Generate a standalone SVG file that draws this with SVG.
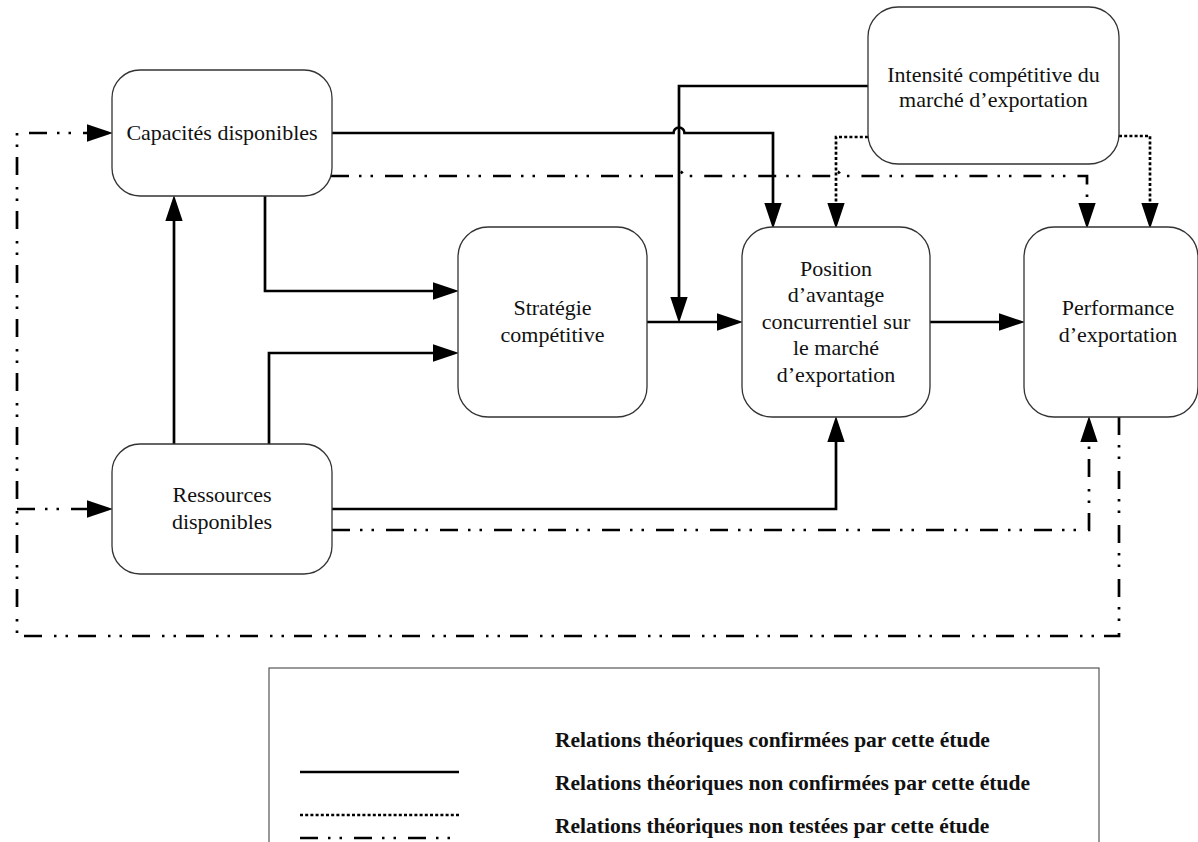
<svg xmlns="http://www.w3.org/2000/svg" width="1198" height="842" viewBox="0 0 1198 842">
<defs>
<style>
.node{fill:#fff;stroke:#333;stroke-width:1.3}
.lbl{font-family:"Liberation Serif","Times New Roman",serif;font-size:22px;fill:#111;text-anchor:middle}
.leg{font-family:"Liberation Serif","Times New Roman",serif;font-size:21.5px;font-weight:bold;fill:#111}
.c{fill:none;stroke:#000;stroke-width:2.7}
.dot{stroke-dasharray:3 2.2}
.dd{stroke-dasharray:18 10 2.5 9 2.5 12}
</style>
<marker id="ah" markerUnits="userSpaceOnUse" markerWidth="26" markerHeight="18" viewBox="0 0 24 16" refX="12" refY="8" orient="auto">
<path d="M0,0 L24,8 L0,16 z" fill="#000"/>
</marker>
</defs>
<rect width="1198" height="842" fill="#fff"/>

<g id="connectors">
<path class="c" d="M332,133 L673.5,133 A5.5,5.5 0 0,1 684.5,133 L773,133 L773,216" marker-end="url(#ah)"/>
<path class="c dd" d="M331,176 L674.5,176 A4.5,4.5 0 0,1 683.5,176 L831.5,176 A4.5,4.5 0 0,1 840.5,176 L1087,176 L1087,216" marker-end="url(#ah)"/>
<path class="c" d="M868,86 L679,86 L679,310" marker-end="url(#ah)"/>
<path class="c dot" d="M868,137 L836,137 L836,216" marker-end="url(#ah)"/>
<path class="c dot" d="M1119,136 L1150,136 L1150,216" marker-end="url(#ah)"/>
<path class="c" d="M265,196 L265,291 L446,291" marker-end="url(#ah)"/>
<path class="c" d="M269,444 L269,353 L446,353" marker-end="url(#ah)"/>
<path class="c" d="M174,444 L174,208" marker-end="url(#ah)"/>
<path class="c" d="M647,322 L730,322" marker-end="url(#ah)"/>
<path class="c" d="M930,322 L1012,322" marker-end="url(#ah)"/>
<path class="c" d="M332,509 L836,509 L836,429" marker-end="url(#ah)"/>
<path class="c dd" d="M332,530 L1089,530 L1089,429" marker-end="url(#ah)"/>
<path class="c dd" d="M1119,417 L1119,636 L17,636 L17,133 L100,133" marker-end="url(#ah)"/>
<path class="c dd" d="M17,509 L100,509" marker-end="url(#ah)"/>
</g>

<g id="node-capacites">
<rect class="node" x="112" y="70" width="220" height="126" rx="28"/>
<text class="lbl" x="222" y="140">Capacités disponibles</text>
</g>
<g id="node-intensite">
<rect class="node" x="868" y="7" width="251" height="157" rx="30"/>
<text class="lbl" x="993.5" y="82">Intensité compétitive du</text>
<text class="lbl" x="993.5" y="107">marché d’exportation</text>
</g>
<g id="node-strategie">
<rect class="node" x="458" y="227" width="189" height="190" rx="30"/>
<text class="lbl" x="552.5" y="315">Stratégie</text>
<text class="lbl" x="552.5" y="342">compétitive</text>
</g>
<g id="node-position">
<rect class="node" x="742" y="227" width="188" height="190" rx="30"/>
<text class="lbl" x="836" y="276">Position</text>
<text class="lbl" x="836" y="302">d’avantage</text>
<text class="lbl" x="836" y="329">concurrentiel sur</text>
<text class="lbl" x="836" y="355">le marché</text>
<text class="lbl" x="836" y="382">d’exportation</text>
</g>
<g id="node-performance">
<rect class="node" x="1024" y="227" width="174" height="190" rx="30"/>
<text class="lbl" x="1118" y="315">Performance</text>
<text class="lbl" x="1118" y="342">d’exportation</text>
</g>
<g id="node-ressources">
<rect class="node" x="112" y="444" width="220" height="130" rx="28"/>
<text class="lbl" x="222" y="502">Ressources</text>
<text class="lbl" x="222" y="529">disponibles</text>
</g>

<g id="legend">
<rect x="269" y="668" width="830" height="200" fill="none" stroke="#555" stroke-width="1.2"/>
<line class="c" x1="300" y1="772" x2="459" y2="772"/>
<line class="c dot" x1="300" y1="815" x2="459" y2="815"/>
<line class="c dd" x1="300" y1="838" x2="459" y2="838"/>
<text class="leg" x="555" y="747">Relations théoriques confirmées par cette étude</text>
<text class="leg" x="555" y="790">Relations théoriques non confirmées par cette étude</text>
<text class="leg" x="555" y="833">Relations théoriques non testées par cette étude</text>
</g>
</svg>
